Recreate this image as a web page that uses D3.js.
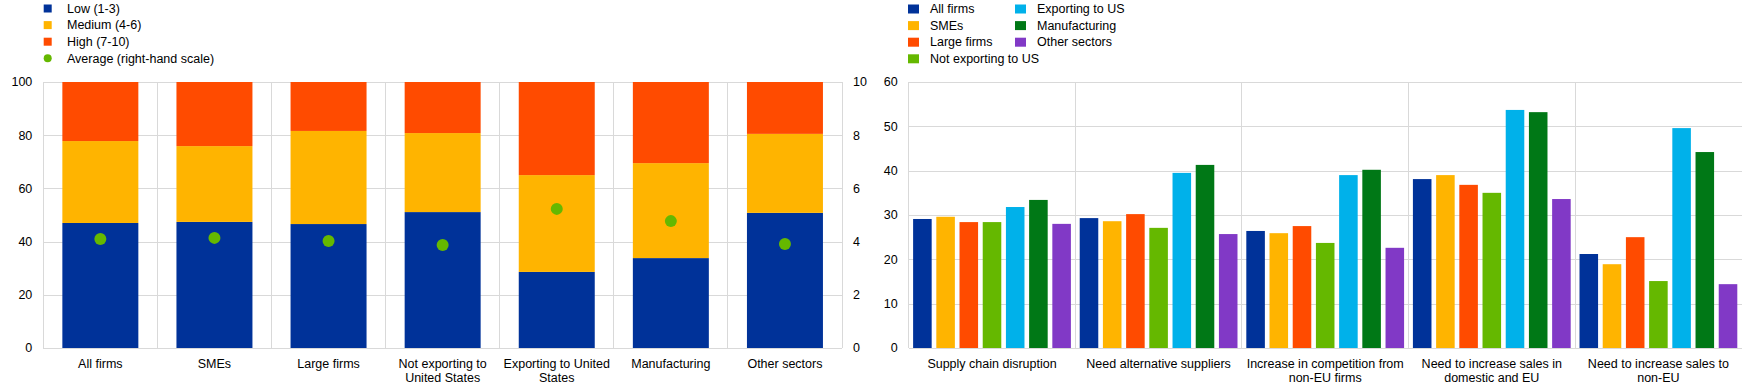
<!DOCTYPE html>
<html>
<head>
<meta charset="utf-8">
<script src="https://cdn.jsdelivr.net/npm/d3@7"></script>
<style>
  body { margin: 0; background: #fff; }
  svg { display: block; font-family: "Liberation Sans", Arial, sans-serif; font-size: 12.5px; }
  .grid line { stroke: #d9d9d9; stroke-width: 1; shape-rendering: crispEdges; }
  text { fill: #000; }
</style>
</head>
<body>
<script>
(function () {

    //left chart data: share of firms by expected impact score
    var groupCats = ["All firms", "SMEs", "Large firms", "Not exporting to\nUnited States",
        "Exporting to United\nStates", "Manufacturing", "Other sectors"];
    var lowVals = [47.0, 47.4, 46.6, 51.1, 28.6, 33.8, 50.8];
    var mediumVals = [30.8, 28.5, 35.0, 29.7, 36.4, 35.7, 29.7];
    var highVals = [22.2, 24.1, 18.4, 19.2, 35.0, 30.5, 19.5];
    var avgVals = [4.10, 4.14, 4.02, 3.87, 5.23, 4.77, 3.91];
    var leftTicks = [0, 20, 40, 60, 80, 100];
    var rightTicks = [0, 2, 4, 6, 8, 10];
    var stackNames = ["Low (1-3)", "Medium (4-6)", "High (7-10)"];
    var stackColors = ["#003299", "#ffb400", "#ff4b00"];
    var dotColor = "#65b800";

    //right chart data: channels of impact by firm group
    var channelCats = ["Supply chain disruption", "Need alternative suppliers",
        "Increase in competition from\nnon-EU firms", "Need to increase sales in\ndomestic and EU",
        "Need to increase sales to\nnon-EU"];
    var seriesNames = ["All firms", "SMEs", "Large firms", "Not exporting to US",
        "Exporting to US", "Manufacturing", "Other sectors"];
    var seriesColors = ["#003299", "#ffb400", "#ff4b00", "#65b800", "#00b1ea", "#007816", "#8139c6"];
    var allFirms = [29.1, 29.3, 26.4, 38.1, 21.2];
    var smes = [29.6, 28.6, 25.9, 39.0, 18.9];
    var largeFirms = [28.4, 30.2, 27.5, 36.8, 25.0];
    var notExporting = [28.4, 27.1, 23.7, 35.0, 15.1];
    var exporting = [31.8, 39.5, 39.0, 53.7, 49.6];
    var manufacturing = [33.4, 41.3, 40.2, 53.2, 44.2];
    var otherSectors = [28.0, 25.7, 22.6, 33.6, 14.4];
    var seriesVals = [allFirms, smes, largeFirms, notExporting, exporting, manufacturing, otherSectors];
    var barTicks = [0, 10, 20, 30, 40, 50, 60];

    var width = 1742, height = 388;

    var svg = d3.select("body").append("svg")
        .attr("width", width)
        .attr("height", height);

    setLeftChart();
    setRightChart();

    //multi-line category labels
    function wrapLabel(sel, x, y) {
        sel.each(function (d) {
            var t = d3.select(this);
            d.split("\n").forEach(function (line, i) {
                t.append("tspan")
                    .attr("x", x(d))
                    .attr("y", y + i * 14.5)
                    .text(line);
            });
        });
    }

    function setLeftChart() {
        var left = 43.3, right = 842, top = 82, bottom = 348;

        var x = d3.scaleBand().domain(groupCats).range([left, right]).padding(0);
        var y = d3.scaleLinear().domain([0, 100]).range([bottom, top]);
        var y2 = d3.scaleLinear().domain([0, 10]).range([bottom, top]);

        var grid = svg.append("g").attr("class", "grid");
        grid.selectAll(".h").data(leftTicks).enter().append("line")
            .attr("x1", left).attr("x2", right)
            .attr("y1", function (d) { return Math.round(y(d)) + 0.5; })
            .attr("y2", function (d) { return Math.round(y(d)) + 0.5; });
        grid.selectAll(".v").data(groupCats.concat([null])).enter().append("line")
            .attr("x1", function (d) { return d === null ? right : x(d); })
            .attr("x2", function (d) { return d === null ? right : x(d); })
            .attr("y1", top).attr("y2", bottom);

        //stack the three score classes
        var rows = groupCats.map(function (c, i) {
            return { cat: c, low: lowVals[i], medium: mediumVals[i], high: highVals[i] };
        });
        var stack = d3.stack().keys(["low", "medium", "high"])(rows);

        var inset = x.bandwidth() * 0.167;
        svg.append("g").selectAll("g").data(stack).enter().append("g")
            .attr("fill", function (d, i) { return stackColors[i]; })
            .selectAll("rect").data(function (d) { return d; }).enter().append("rect")
            .attr("x", function (d) { return x(d.data.cat) + inset; })
            .attr("width", x.bandwidth() - inset * 2)
            .attr("y", function (d) { return y(d[1]); })
            .attr("height", function (d) { return y(d[0]) - y(d[1]); });

        //averages on the right-hand scale
        svg.append("g").selectAll("circle").data(avgVals).enter().append("circle")
            .attr("cx", function (d, i) { return x(groupCats[i]) + x.bandwidth() / 2; })
            .attr("cy", function (d) { return y2(d); })
            .attr("r", 6)
            .attr("fill", dotColor);

        //axes labels
        svg.append("g").selectAll("text").data(leftTicks).enter().append("text")
            .attr("x", left - 11).attr("y", function (d) { return y(d); })
            .attr("dy", "0.35em").attr("text-anchor", "end")
            .text(function (d) { return d; });
        svg.append("g").selectAll("text").data(rightTicks).enter().append("text")
            .attr("x", right + 11).attr("y", function (d) { return y2(d); })
            .attr("dy", "0.35em").attr("text-anchor", "start")
            .text(function (d) { return d; });
        svg.append("g").selectAll("text").data(groupCats).enter().append("text")
            .attr("text-anchor", "middle")
            .call(wrapLabel, function (d) { return x(d) + x.bandwidth() / 2; }, bottom + 19.5);

        //legend
        var legend = svg.append("g");
        stackNames.forEach(function (n, i) {
            legend.append("rect").attr("x", 43.7).attr("y", 4.5 + i * 16.6)
                .attr("width", 8).attr("height", 8).attr("fill", stackColors[i]);
            legend.append("text").attr("x", 67).attr("y", 8.5 + i * 16.6)
                .attr("dy", "0.35em").text(n);
        });
        legend.append("circle").attr("cx", 47.7).attr("cy", 8.5 + 3 * 16.6)
            .attr("r", 4).attr("fill", dotColor);
        legend.append("text").attr("x", 67).attr("y", 8.5 + 3 * 16.6)
            .attr("dy", "0.35em").text("Average (right-hand scale)");
    }

    function setRightChart() {
        var left = 908.7, right = 1741.7, top = 82, bottom = 348;

        var x0 = d3.scaleBand().domain(channelCats).range([left, right]).padding(0);
        var x1 = d3.scaleBand().domain(seriesNames).range([0, x0.bandwidth()])
            .paddingInner(0.2).paddingOuter(0.19);
        var y = d3.scaleLinear().domain([0, 60]).range([bottom, top]);

        var grid = svg.append("g").attr("class", "grid");
        grid.selectAll(".h").data(barTicks).enter().append("line")
            .attr("x1", left).attr("x2", right)
            .attr("y1", function (d) { return Math.round(y(d)) + 0.5; })
            .attr("y2", function (d) { return Math.round(y(d)) + 0.5; });
        grid.selectAll(".v").data(channelCats).enter().append("line")
            .attr("x1", function (d) { return x0(d); })
            .attr("x2", function (d) { return x0(d); })
            .attr("y1", top).attr("y2", bottom);

        var groups = svg.append("g").selectAll("g").data(channelCats).enter().append("g")
            .attr("transform", function (d) { return "translate(" + x0(d) + ",0)"; });
        groups.selectAll("rect")
            .data(function (d, ci) {
                return seriesNames.map(function (s, si) { return { s: s, i: si, v: seriesVals[si][ci] }; });
            })
            .enter().append("rect")
            .attr("x", function (d) { return x1(d.s); })
            .attr("width", x1.bandwidth())
            .attr("y", function (d) { return y(d.v); })
            .attr("height", function (d) { return y(0) - y(d.v); })
            .attr("fill", function (d) { return seriesColors[d.i]; });

        svg.append("g").selectAll("text").data(barTicks).enter().append("text")
            .attr("x", left - 11).attr("y", function (d) { return y(d); })
            .attr("dy", "0.35em").attr("text-anchor", "end")
            .text(function (d) { return d; });
        svg.append("g").selectAll("text").data(channelCats).enter().append("text")
            .attr("text-anchor", "middle")
            .call(wrapLabel, function (d) { return x0(d) + x0.bandwidth() / 2; }, bottom + 19.5);

        //legend in two columns
        var legend = svg.append("g");
        seriesNames.forEach(function (n, i) {
            var col = i < 4 ? 0 : 1, row = i < 4 ? i : i - 4;
            var lx = col === 0 ? 908 : 1015;
            legend.append("rect").attr("x", lx).attr("y", 4.5 + row * 16.6)
                .attr("width", 11).attr("height", 9).attr("fill", seriesColors[i]);
            legend.append("text").attr("x", lx + 22).attr("y", 8.8 + row * 16.6)
                .attr("dy", "0.35em").text(n);
        });
    }

})();
</script>
</body>
</html>
